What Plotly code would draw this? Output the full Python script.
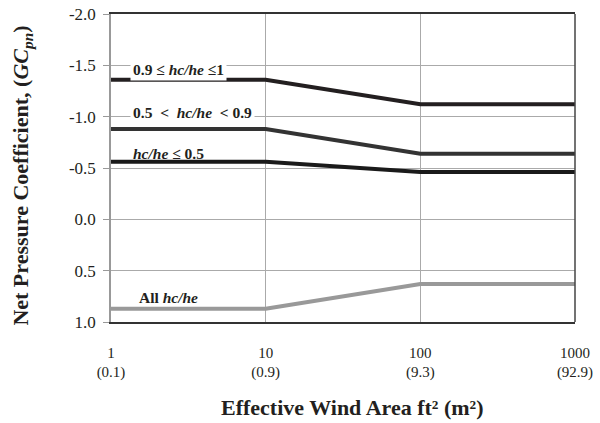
import plotly.graph_objects as go

# Data
area_ft2 = [1, 10, 100, 1000]
x_tick_labels = ["1<br>(0.1)", "10<br>(0.9)", "100<br>(9.3)", "1000<br>(92.9)"]
y_tick_vals = [-2.0, -1.5, -1.0, -0.5, 0.0, 0.5, 1.0]
y_tick_labels = ["-2.0", "-1.5", "-1.0", "-0.5", "0.0", "0.5", "1.0"]

gc_high = [-1.36, -1.36, -1.12, -1.12]   # 0.9 <= hc/he <= 1
gc_mid = [-0.88, -0.88, -0.64, -0.64]    # 0.5 < hc/he < 0.9
gc_low = [-0.56, -0.56, -0.46, -0.46]    # hc/he <= 0.5
gc_all = [0.87, 0.87, 0.63, 0.63]        # All hc/he

series = [
    ("0.9 ≤ hc/he ≤ 1", gc_high, "#231f20"),
    ("0.5 < hc/he < 0.9", gc_mid, "#333333"),
    ("hc/he ≤ 0.5", gc_low, "#1a1a1a"),
    ("All hc/he", gc_all, "#999999"),
]

FONT = "Liberation Serif, Times New Roman, serif"
TXT = "#231f20"

fig = go.Figure()
for name, vals, col in series:
    fig.add_trace(go.Scatter(x=area_ft2, y=vals, mode="lines", name=name,
                             line=dict(color=col, width=4), showlegend=False))

labels = [
    ("<b>0.9 ≤ <i>hc/he</i> ≤1</b>", 0.042, -1.457),
    ("<b>0.5  &lt;  <i>hc/he</i>  &lt; 0.9</b>", 0.042, -1.04),
    ("<b><i>hc/he</i> ≤ 0.5</b>", 0.042, -0.642),
    ("<b>All <i>hc/he</i></b>", 0.053, 0.764),
]
for i, (txt, xp, yv) in enumerate(labels):
    fig.add_annotation(text=txt, xref="paper", yref="y", x=xp, y=yv,
                       xanchor="left", yanchor="middle", showarrow=False,
                       font=dict(family=FONT, size=15.5, color=TXT),
                       bgcolor="white" if i < 2 else "rgba(0,0,0,0)", borderpad=2)

# axis titles
fig.add_annotation(text="<b>Net Pressure Coefficient, (<i>GC</i><sub><i>pn</i></sub>)</b>",
                   xref="paper", yref="paper", x=-0.192, y=0.475, textangle=-90,
                   xanchor="center", yanchor="middle", showarrow=False,
                   font=dict(family=FONT, size=22, color=TXT))
fig.add_annotation(text="<b>Effective Wind Area ft² (m²)</b>",
                   xref="paper", yref="paper", x=0.519, y=-0.279,
                   xanchor="center", yanchor="middle", showarrow=False,
                   font=dict(family=FONT, size=22, color=TXT))

# right border (dark)
fig.add_shape(type="line", xref="paper", yref="paper", x0=1, x1=1, y0=0, y1=1,
              line=dict(color="#444444", width=1.5))

fig.update_xaxes(type="log", range=[0, 3], tickvals=area_ft2, ticktext=x_tick_labels,
                 showgrid=True, gridcolor="#aaaaaa", gridwidth=1,
                 showline=True, linecolor="#333333", linewidth=1.5, mirror=True,
                 ticks="", ticklabelstandoff=16, automargin=False,
                 tickfont=dict(family=FONT, size=15, color=TXT),
                 zeroline=False)
fig.update_yaxes(range=[1.0, -2.0], tickvals=y_tick_vals, ticktext=y_tick_labels,
                 showgrid=True, gridcolor="#aaaaaa", gridwidth=1,
                 showline=True, linecolor="#999999", linewidth=1.5,
                 ticks="outside", ticklen=6, tickcolor="#999999",
                 ticklabelstandoff=4, automargin=False,
                 tickfont=dict(family=FONT, size=17, color=TXT),
                 zeroline=False)

fig.update_layout(width=600, height=423, plot_bgcolor="white", paper_bgcolor="white",
                  margin=dict(l=111, r=25, t=14, b=101))

# remove the default 8px page margin so the figure sits at the window origin
fig.write_html("out.html", config={"displayModeBar": False},
               post_script="document.body.style.margin='0px';document.body.style.overflow='hidden';")
